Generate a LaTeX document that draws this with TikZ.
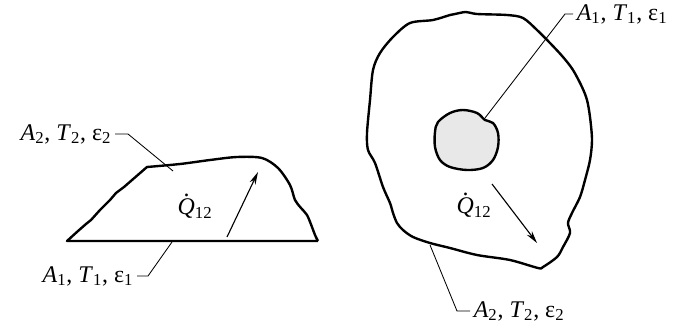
\documentclass[tikz,border=0pt]{standalone}
\usepackage{fontspec}
\setmainfont{Liberation Serif}
\usepackage{tikz}
\usetikzlibrary{arrows.meta}

\newcommand{\surfprops}[1]{\textit{A}\textsubscript{#1}, \textit{T}\textsubscript{#1}, ε\textsubscript{#1}}
\newcommand{\qdotlabel}{\textit{Q}\hspace{-0.47em}\raisebox{0.76em}{.}\hspace{0.22em}\textsubscript{12}}

\begin{document}
\begin{tikzpicture}[
    x=0.025cm, y=-0.025cm,
    outline/.style={draw, line width=1.7pt, line join=round},
    leader/.style={draw, line width=0.6pt},
    flux/.style={->, >={Stealth[length=9pt, width=4.5pt]}, line width=0.8pt},
    lbl/.style={inner sep=2.5pt, font=\fontsize{17}{19}\selectfont}
]
    \useasboundingbox (0,0) rectangle (675,329);

    % left: two surfaces facing each other
    \draw[outline] (318,241) -- (67,241) -- (78,231) -- (86,224) -- (91,220) -- (100,210)
        -- (110,200) -- (116,193) -- (124,187) -- (147,167)
        -- plot[smooth, tension=0.5] coordinates {(147,167) (180,164) (210,160) (237,157) (262,158)
            (278,168) (290,185) (295,200) (301,208) (307,215) (312,227) (315,235) (318,241)};

    % right: small body inside an enclosure
    \draw[outline] plot[smooth cycle, tension=0.5] coordinates {
        (455,14) (466,12) (477,14) (507,15) (523,18) (537,30) (550,43) (563,57) (573,70)
        (582,87) (587,100) (590,117) (592,140) (590,160) (585,180) (580,197) (572,213)
        (568,223) (570,233) (563,247) (557,257) (543,267) (538,268) (510,260) (477,255)
        (450,248) (430,243) (413,237) (403,230) (397,223) (393,213) (390,203) (383,187)
        (375,163) (368,150) (367,133) (370,100) (373,70) (380,53) (393,37) (410,23)
        (433,20) (450,15)};
    \draw[outline, fill=gray!18] plot[smooth cycle, tension=0.55] coordinates {
        (435,132) (438,122) (450,113) (463,110) (477,113) (485,120) (493,123) (498,133)
        (498,147) (493,160) (483,168) (467,170) (450,167) (440,160) (435,147)};

    \coordinate (s2) at (173,171);
    \coordinate (s1) at (172,242);
    \coordinate (b1) at (485,118);
    \coordinate (b2) at (430,245);

    \node[lbl, anchor=east] (lab2) at (115,134) {\surfprops{2}};
    \node[lbl, anchor=east] (lab1) at (137,276) {\surfprops{1}};
    \node[lbl, anchor=west] (rlab1) at (573,14) {\surfprops{1}};
    \node[lbl, anchor=west] (rlab2) at (470,311) {\surfprops{2}};

    \draw[leader] (lab2.east) -- ++(13,0) -- (s2);
    \draw[leader] (lab1.east) -- ++(11,0) -- (s1);
    \draw[leader] (rlab1.west) -- ++(-8,0) -- (b1);
    \draw[leader] (rlab2.west) -- ++(-13,0) -- (b2);

    \node[lbl] (q1) at (195,206) {\qdotlabel};
    \node[lbl] (q2) at (474,205) {\qdotlabel};

    \coordinate (f1a) at (227,237);
    \coordinate (f1b) at (258,172);
    \coordinate (f2a) at (492,184);
    \coordinate (f2b) at (537,243);
    \draw[flux] (f1a) -- (f1b);
    \draw[flux] (f2a) -- (f2b);
\end{tikzpicture}
\end{document}
